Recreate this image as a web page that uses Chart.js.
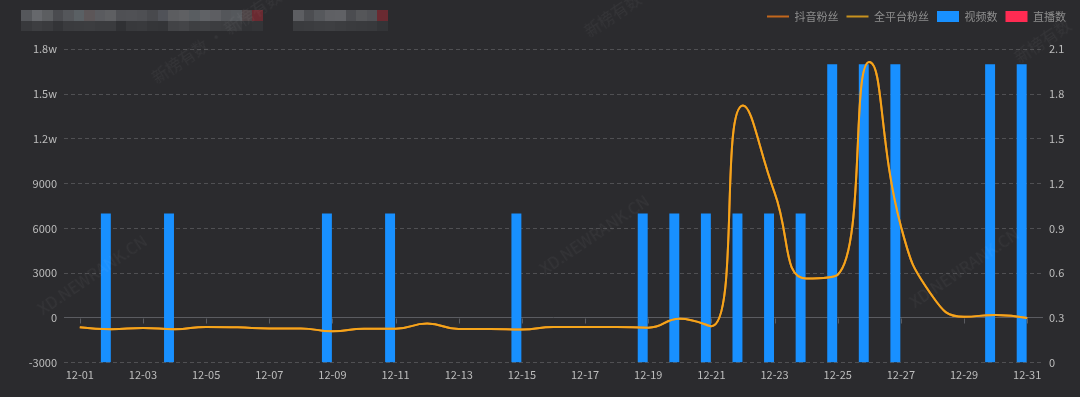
<!DOCTYPE html>
<html>
<head>
<meta charset="utf-8">
<script src="https://cdn.jsdelivr.net/npm/chart.js@4.4.0/dist/chart.umd.min.js"></script>
<style>
html,body{margin:0;padding:0;background:#2b2b2e;}
#wrap{position:relative;width:1080px;height:397px;overflow:hidden;background:#2b2b2e;}
#c{position:absolute;left:0;top:0;}
.wm{position:absolute;color:rgba(255,255,255,0.045);font-family:'Noto Sans CJK SC',sans-serif;font-size:16px;transform:rotate(-34deg);transform-origin:center;white-space:nowrap;pointer-events:none;}
.mosaic{position:absolute;top:10px;display:flex;flex-direction:column;}
.mosaic .row{display:flex;height:10.5px;}
.mosaic .row div{width:10.5px;height:10.5px;}
</style>
</head>
<body>
<div id="wrap">
  <canvas id="c" width="1080" height="397"></canvas>
  <div id="m1" class="mosaic" style="left:21px"></div>
  <div id="m2" class="mosaic" style="left:293px"></div>
  <div class="wm" style="left:140px;top:24px;">新榜有数 · 新榜有数</div>
  <div class="wm" style="left:580px;top:2px;">新榜有数</div>
  <div class="wm" style="left:1010px;top:28px;">新榜有数</div>
  <div class="wm" style="left:28px;top:262px;">XD.NEWRANK.CN</div>
  <div class="wm" style="left:530px;top:222px;">XD.NEWRANK.CN</div>
  <div class="wm" style="left:900px;top:255px;">XD.NEWRANK.CN</div>
</div>
<script>
// ---- data ----
const dates = ['12-01','12-02','12-03','12-04','12-05','12-06','12-07','12-08','12-09','12-10',
  '12-11','12-12','12-13','12-14','12-15','12-16','12-17','12-18','12-19','12-20',
  '12-21','12-22','12-23','12-24','12-25','12-26','12-27','12-28','12-29','12-30','12-31'];
const douyinFans = [-630,-760,-670,-760,-600,-630,-700,-700,-900,-720,
  -720,-380,-740,-740,-780,-600,-600,-600,-650,-50,
  -560,14230,8400,2650,2900,17150,6150,1450,80,200,0];
const allFans = [-630,-760,-670,-760,-600,-630,-700,-700,-900,-720,
  -720,-380,-740,-740,-780,-600,-600,-600,-650,-50,
  -560,14230,8400,2650,2900,17150,6150,1450,80,200,0];
const videoCount = [0,1,0,1,0,0,0,0,1,0,
  1,0,0,0,1,0,0,0,1,1,
  1,1,1,1,2,2,2,0,0,2,2];
const liveCount = [0,0,0,0,0,0,0,0,0,0,
  0,0,0,0,0,0,0,0,0,0,
  0,0,0,0,0,0,0,0,0,0,0];
const leftTicks = [-3000,0,3000,6000,9000,12000,15000,18000];
const leftTickLabels = ['-3000','0','3000','6000','9000','1.2w','1.5w','1.8w'];
const rightTickLabels = ['0','0.3','0.6','0.9','1.2','1.5','1.8','2.1'];
const seriesNames = ['抖音粉丝','全平台粉丝','视频数','直播数'];

// ---- decorative mosaic (blurred title) ----
function mosaic(id, top, bottom){
  const el = document.getElementById(id);
  [top,bottom].forEach(cols=>{
    const r=document.createElement('div');r.className='row';
    cols.forEach(c=>{const d=document.createElement('div');d.style.background=c;r.appendChild(d);});
    el.appendChild(r);
  });
}
mosaic('m1',
 ['#55575b','#66686c','#5c5e61','#4a4b4f','#54565a','#5a6064','#5c5658','#5a5b5f','#5e5f62','#4f5054','#505155','#4e4f53','#48494d','#505258','#5c5d60','#5f6063','#595d61','#606266','#5d5e62','#54565a','#55585c','#4d4446','#6a2a31'],
 ['#38393c','#3d3e41','#3a3b3e','#333437','#3a3b3e','#3b3c3f','#3c3d40','#3a3b3e','#3a3b3e','#303134','#38393c','#393a3d','#353639','#343538','#424346','#444548','#3e3f42','#3f4043','#3c3d40','#3b3c3f','#38393c','#313235','#333437']);
mosaic('m2',
 ['#5d5e62','#4c4d51','#56585c','#5f6064','#606165','#4b4c50','#555659','#505155','#6a2a31'],
 ['#3a3b3e','#3b3c3f','#3d3e41','#3e3f42','#3c3d40','#3a3b3e','#393a3d','#38393c','#333437']);

// ---- chart ----
Chart.defaults.font.family = "'Noto Sans CJK SC','Microsoft YaHei',sans-serif";
Chart.defaults.font.size = 11;

const legendColors = ['#c2671c','#c8921e','#1890ff','#ff2b52'];

// ECharts-style constrained smoothing applied to the library's own point elements
function smoothPoints(pts, smooth){
  const n = pts.length; if (n < 2) return;
  const mn=Math.min, mx=Math.max;
  let cpx0 = pts[0].x, cpy0 = pts[0].y;
  for (let i=1;i<n;i++){
    const x=pts[i].x, y=pts[i].y, px=pts[i-1].x, py=pts[i-1].y;
    let cpx1, cpy1, ncx=x, ncy=y;
    if (i===n-1){ cpx1=x; cpy1=y; }
    else {
      const nx=pts[i+1].x, ny=pts[i+1].y;
      let vx=nx-px, vy=ny-py;
      const lp=Math.hypot(x-px,y-py), ln=Math.hypot(nx-x,ny-y);
      const r = ln/(ln+lp);
      ncx = x + vx*smooth*r; ncy = y + vy*smooth*r;
      ncx = mn(ncx, mx(nx,x)); ncy = mn(ncy, mx(ny,y));
      ncx = mx(ncx, mn(nx,x)); ncy = mx(ncy, mn(ny,y));
      vx = ncx-x; vy = ncy-y;
      cpx1 = x - vx*lp/ln; cpy1 = y - vy*lp/ln;
      cpx1 = mn(cpx1, mx(px,x)); cpy1 = mn(cpy1, mx(py,y));
      cpx1 = mx(cpx1, mn(px,x)); cpy1 = mx(cpy1, mn(py,y));
      vx = x-cpx1; vy = y-cpy1;
      ncx = x + vx*ln/lp; ncy = y + vy*ln/lp;
    }
    pts[i-1].cp2x = cpx0; pts[i-1].cp2y = cpy0;
    pts[i].cp1x = cpx1; pts[i].cp1y = cpy1;
    cpx0 = ncx; cpy0 = ncy;
  }
}

const helper = {
  id:'helper',
  beforeInit(chart){
    const lg = chart.legend;
    if(lg){ const f = lg.fit; lg.fit = function(){ f.call(this); this.height = 46.3; }; }
  },
  beforeDatasetDraw(chart, args){
    const meta = args.meta;
    if (meta.type === 'line') {
      smoothPoints(meta.data, 0.5);
      meta.dataset._pointsUpdated = true;
      meta.dataset._path = undefined;
    }
  },
  beforeDatasetsDraw(chart){
    const x = chart.scales.x, y = chart.scales.y, ctx = chart.ctx;
    const y0 = Math.round(y.getPixelForValue(0)) + 0.5;
    ctx.save();
    ctx.strokeStyle = '#5b5c61'; ctx.lineWidth = 1;
    ctx.beginPath();
    for(let i=0;i<dates.length;i+=2){
      const px = Math.round(x.getPixelForValue(i)) + 0.5;
      ctx.moveTo(px,y0); ctx.lineTo(px,y0+5);
    }
    ctx.stroke();
    ctx.restore();
  }
};

new Chart(document.getElementById('c'), {
  type:'bar',
  data:{
    labels: dates,
    datasets:[
      {type:'line', label:seriesNames[0], data:douyinFans, yAxisID:'y', borderColor:'#d9781c', backgroundColor:'#d9781c', borderWidth:2, pointRadius:0, tension:0.4, order:2},
      {type:'line', label:seriesNames[1], data:allFans, yAxisID:'y', borderColor:'#f5a51b', backgroundColor:'#f5a51b', borderWidth:2, pointRadius:0, tension:0.4, order:1},
      {type:'bar', label:seriesNames[2], data:videoCount, yAxisID:'y1', backgroundColor:'#1890ff', borderWidth:0, categoryPercentage:0.7, barPercentage:0.9, order:3},
      {type:'bar', label:seriesNames[3], data:liveCount, yAxisID:'y1', backgroundColor:'#ff2b52', borderWidth:0, categoryPercentage:0.7, barPercentage:0.9, order:4}
    ]
  },
  options:{
    responsive:false,
    animation:false,
    layout:{padding:{left:0,right:6,top:3,bottom:0}},
    plugins:{
      tooltip:{enabled:false},
      legend:{
        position:'top', align:'end',
        labels:{
          color:'#8e8e8e', usePointStyle:true, pointStyleWidth:22, boxHeight:12, padding:8,
          font:{size:11},
          generateLabels(chart){
            return chart.data.datasets.map((d,i)=>({
              text:d.label, datasetIndex:i, hidden:false,
              fillStyle:legendColors[i], strokeStyle:legendColors[i],
              lineWidth: d.type==='line'?2:0,
              pointStyle: d.type==='line'?'line':'rect',
              fontColor:'#8e8e8e'
            }));
          }
        }
      }
    },
    scales:{
      x:{
        type:'category', offset:true,
        grid:{display:false, drawTicks:false},
        border:{display:false},
        ticks:{color:'#bdbdbd', autoSkip:false, maxRotation:0, padding:6,
          callback(v,i){ return i%2===0 ? dates[i] : ''; }},
        afterFit(s){ s.height = 34.3; }
      },
      y:{
        position:'left', min:-3000, max:18000,
        afterBuildTicks(s){ s.ticks = leftTicks.map(v=>({value:v})); },
        grid:{color:(c)=> c.tick && c.tick.value===0 ? '#5b5c61' : '#505053', lineWidth:1, drawTicks:false},
        border:{display:false, dash:(c)=> c.tick && c.tick.value===0 ? [] : [4,3]},
        ticks:{color:'#bdbdbd', padding:7, callback(v,i){ return leftTickLabels[i]; }},
        afterFit(s){ s.width = 64; }
      },
      y1:{
        position:'right', min:0, max:2.1,
        afterBuildTicks(s){ s.ticks = rightTickLabels.map(t=>({value:parseFloat(t)})); },
        grid:{drawOnChartArea:false, drawTicks:false},
        border:{display:false},
        ticks:{color:'#bdbdbd', padding:6, callback(v,i){ return rightTickLabels[i]; }},
        afterFit(s){ s.width = 31; }
      }
    }
  },
  plugins:[helper]
});
</script>
</body>
</html>
